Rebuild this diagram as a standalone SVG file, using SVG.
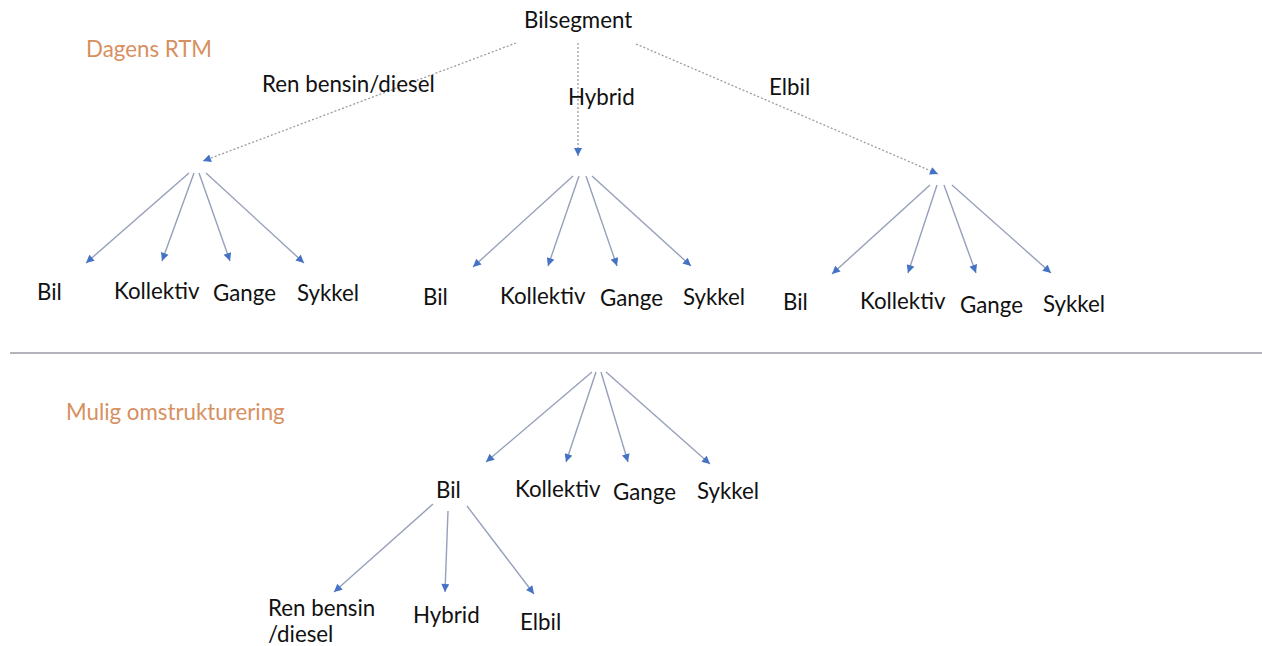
<svg xmlns="http://www.w3.org/2000/svg" width="1262" height="646" viewBox="0 0 1262 646">
<defs>
<marker id="ah" viewBox="0 0 10 10" refX="10" refY="5" markerWidth="9" markerHeight="8" markerUnits="userSpaceOnUse" orient="auto"><path d="M0,0 L10,5 L0,10 z" fill="#4472C4"/></marker>
<style>
text{font-family:Lato,"Liberation Sans",sans-serif;font-size:22.3px;fill:#111}
.hd{fill:#D7905F}
.sl{stroke:#97A0BB;stroke-width:1.4;fill:none;marker-end:url(#ah)}
.dl{stroke:#9C9C9C;stroke-width:1.3;stroke-dasharray:2 2;fill:none;marker-end:url(#ah)}
.div{stroke:#B4B4BC;stroke-width:2}
</style>
</defs>
<rect width="1262" height="646" fill="#fff"/>
<text class="hd" x="86" y="57">Dagens RTM</text>
<text class="hd" x="66" y="420">Mulig omstrukturering</text>
<line class="div" x1="10" y1="353" x2="1262" y2="353"/>
<g id="connectors">
<path class="dl" d="M516,43 L203,161"/>
<path class="dl" d="M578,43 L578,156"/>
<path class="dl" d="M636,44 L938,174"/>
<path class="sl" d="M189,173 L86,263"/>
<path class="sl" d="M194,173 L162,261"/>
<path class="sl" d="M199,173 L230,261"/>
<path class="sl" d="M206,173 L304,263"/>
<path class="sl" d="M573,176 L473,267"/>
<path class="sl" d="M579,176 L548,266"/>
<path class="sl" d="M586,176 L617,266"/>
<path class="sl" d="M592,176 L691,266"/>
<path class="sl" d="M930,185 L832,274"/>
<path class="sl" d="M937,185 L908,273"/>
<path class="sl" d="M944,185 L976,273"/>
<path class="sl" d="M952,185 L1051,273"/>
<path class="sl" d="M592,372 L486,462"/>
<path class="sl" d="M596,372 L566,462"/>
<path class="sl" d="M601,372 L628,462"/>
<path class="sl" d="M606,372 L710,464"/>
<path class="sl" d="M433,504 L334,592"/>
<path class="sl" d="M448,511 L445,592"/>
<path class="sl" d="M467,506 L534,594"/>
</g>
<g id="bilsegment"><text x="524" y="28">Bilsegment</text></g>
<g id="lbl-ren"><text x="262" y="92">Ren bensin/diesel</text></g>
<g id="lbl-hybrid"><text x="568" y="105">Hybrid</text></g>
<g id="lbl-elbil"><text x="769" y="95">Elbil</text></g>
<g id="t1-bil"><text x="37" y="300">Bil</text></g>
<g id="t1-kollektiv"><text x="114" y="299">Kollektiv</text></g>
<g id="t1-gange"><text x="213" y="301">Gange</text></g>
<g id="t1-sykkel"><text x="297" y="301">Sykkel</text></g>
<g id="t2-bil"><text x="423" y="305">Bil</text></g>
<g id="t2-kollektiv"><text x="500" y="304">Kollektiv</text></g>
<g id="t2-gange"><text x="600" y="306">Gange</text></g>
<g id="t2-sykkel"><text x="683" y="305">Sykkel</text></g>
<g id="t3-bil"><text x="783" y="310">Bil</text></g>
<g id="t3-kollektiv"><text x="860" y="309">Kollektiv</text></g>
<g id="t3-gange"><text x="960" y="313">Gange</text></g>
<g id="t3-sykkel"><text x="1043" y="312">Sykkel</text></g>
<g id="b-bil"><text x="436" y="498">Bil</text></g>
<g id="b-kollektiv"><text x="515" y="497">Kollektiv</text></g>
<g id="b-gange"><text x="613" y="500">Gange</text></g>
<g id="b-sykkel"><text x="697" y="499">Sykkel</text></g>
<g id="b-ren"><text x="268" y="616">Ren bensin</text><text x="268" y="642">/diesel</text></g>
<g id="b-hybrid"><text x="413" y="623">Hybrid</text></g>
<g id="b-elbil"><text x="520" y="630">Elbil</text></g>
</svg>
